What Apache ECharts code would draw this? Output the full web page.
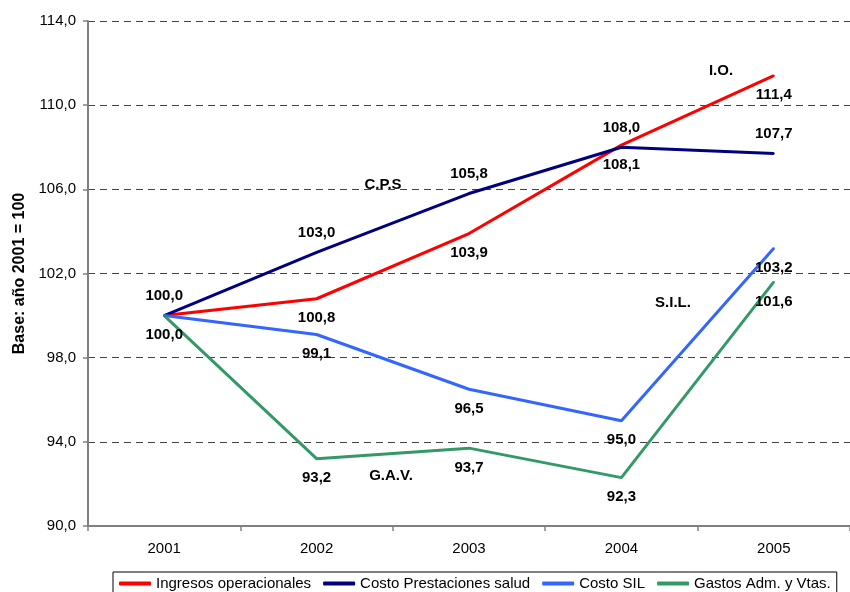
<!DOCTYPE html>
<html style="height: 100%">
<head>
<meta charset="utf-8">
<script src="https://cdn.jsdelivr.net/npm/echarts@6/dist/echarts.min.js"></script>
</head>
<body style="height: 100%; margin: 0; background: #fff">
<div id="container" style="width: 850px; height: 592px"></div>
<script type="text/javascript">
var years = ['2001', '2002', '2003', '2004', '2005'];
var ingresos = [100.0, 100.8, 103.9, 108.1, 111.4];
var prestaciones = [100.0, 103.0, 105.8, 108.0, 107.7];
var costoSil = [100.0, 99.1, 96.5, 95.0, 103.2];
var gastos = [100.0, 93.2, 93.7, 92.3, 101.6];
var seriesNames = ['Ingresos operacionales', 'Costo Prestaciones salud', 'Costo SIL', 'Gastos Adm. y Vtas.'];
var yTicks = { min: 90, max: 114, step: 4 };

var font = 'Liberation Sans, Arial, sans-serif';

function fmt(v) {
    return v.toFixed(1).replace('.', ',');
}

// which 2001 labels are drawn (the others sit on top of each other)
function points(values, showFirst) {
    return values.map(function (v, i) {
        if (i === 0 && !showFirst) {
            return { value: v, label: { show: false } };
        }
        return v;
    });
}

function lineSeries(name, values, color, pos, showFirst) {
    return {
        name: name,
        type: 'line',
        data: points(values, showFirst),
        symbol: 'circle',
        symbolSize: 2,
        itemStyle: { color: color },
        lineStyle: { color: color, width: 3 },
        label: {
            show: true,
            position: pos,
            distance: 11,
            fontFamily: font,
            fontSize: 15,
            fontWeight: 'bold',
            color: '#000',
            formatter: function (p) { return fmt(p.value); }
        },
        emphasis: { disabled: true }
    };
}

function tag(text, x, y) {
    return {
        type: 'text',
        x: x,
        y: y,
        style: {
            text: text,
            fontFamily: font,
            fontSize: 15,
            fontWeight: 'bold',
            fill: '#000',
            align: 'center',
            verticalAlign: 'middle'
        }
    };
}

var dom = document.getElementById('container');
var myChart = echarts.init(dom, null, { renderer: 'canvas' });

var option = {
    animation: false,
    backgroundColor: '#fff',
    grid: { left: 88, top: 21, right: -9, bottom: 66, containLabel: false },
    xAxis: {
        type: 'category',
        data: years,
        boundaryGap: true,
        axisLine: { lineStyle: { color: '#808080', width: 2 } },
        axisTick: { show: true, length: 5, lineStyle: { color: '#808080', width: 1.5 } },
        axisLabel: { margin: 15, fontFamily: font, fontSize: 15, color: '#000' },
        splitLine: { show: false }
    },
    yAxis: {
        type: 'value',
        min: yTicks.min,
        max: yTicks.max,
        interval: yTicks.step,
        name: 'Base: año 2001 = 100',
        nameLocation: 'middle',
        nameGap: 54,
        nameTextStyle: { fontFamily: font, fontSize: 16, fontWeight: 'bold', color: '#000' },
        axisLine: { show: true, lineStyle: { color: '#808080', width: 2 } },
        axisTick: { show: true, length: 5, lineStyle: { color: '#808080', width: 1.5 } },
        axisLabel: {
            margin: 12,
            fontFamily: font,
            fontSize: 15,
            color: '#000',
            formatter: function (v) { return fmt(v); }
        },
        splitLine: { show: true, lineStyle: { color: '#444', width: 1, type: [7, 5] } }
    },
    legend: {
        data: seriesNames,
        left: 113,
        top: 572,
        padding: [4, 6, 8, 6],
        itemGap: 12,
        itemWidth: 32,
        itemHeight: 4,
        icon: 'roundRect',
        borderColor: '#000',
        borderWidth: 1,
        textStyle: { fontFamily: font, fontSize: 15, color: '#000' }
    },
    graphic: [
        tag('I.O.', 721, 71),
        tag('C.P.S', 383, 185),
        tag('S.I.L.', 673, 303),
        tag('G.A.V.', 391, 476)
    ],
    series: [
        lineSeries(seriesNames[0], ingresos, '#ff0000', 'bottom', false),
        lineSeries(seriesNames[1], prestaciones, '#000080', 'top', true),
        lineSeries(seriesNames[2], costoSil, '#3366ff', 'bottom', false),
        lineSeries(seriesNames[3], gastos, '#339966', 'bottom', true)
    ]
};

if (option && typeof option === 'object') {
    myChart.setOption(option, true);
}
</script>
</body>
</html>
